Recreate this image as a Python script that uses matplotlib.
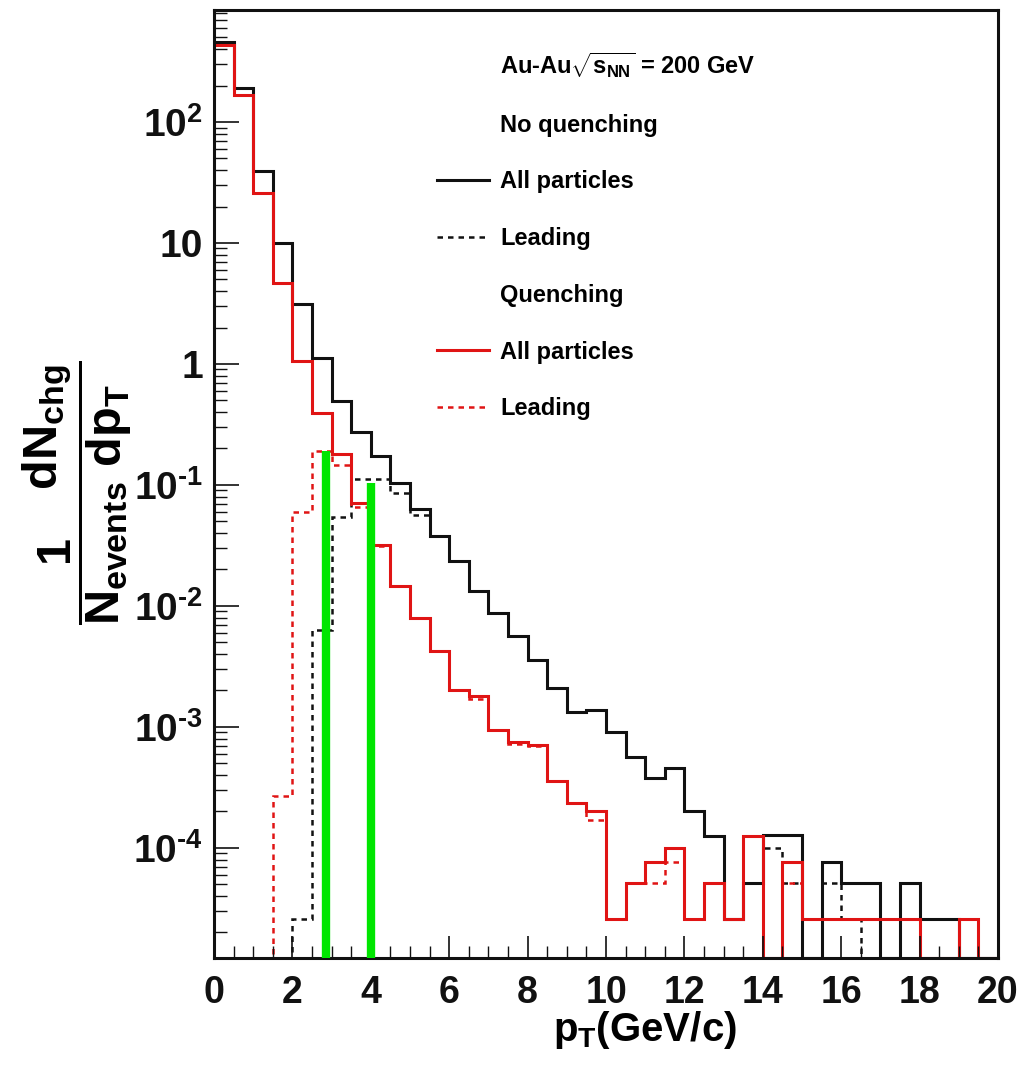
import numpy as np
import matplotlib
matplotlib.use("Agg")
import matplotlib.pyplot as plt
from matplotlib.lines import Line2D
from matplotlib.ticker import LogLocator, MultipleLocator, NullFormatter

plt.rcParams['font.family'] = ['Liberation Sans', 'DejaVu Sans']
plt.rcParams['font.weight'] = 'bold'
plt.rcParams['mathtext.fontset'] = 'custom'
plt.rcParams['mathtext.rm'] = 'Liberation Sans:bold'
plt.rcParams['mathtext.it'] = 'Liberation Sans:bold'
plt.rcParams['mathtext.bf'] = 'Liberation Sans:bold'
plt.rcParams['mathtext.sf'] = 'Liberation Sans:bold'

# ---- datos (bins de 0.5 GeV/c, 0 -> 20) ----
pt_edges = np.linspace(0, 20, 41)

# sin quenching, todas las particulas
all_noq = [457, 190, 39, 10, 3.1, 1.12, 0.49, 0.275, 0.174, 0.104,
           0.063, 0.038, 0.0234, 0.0134, 0.0087, 0.0056, 0.0036, 0.0021, 0.00132, 0.00138,
           0.00090, 0.00056, 0.00038, 0.00046, 0.00020, 0.000126, 2.6e-5, 5.1e-5, 1.28e-4, 1.28e-4,
           0, 7.6e-5, 5.1e-5, 5.1e-5, 0, 5.1e-5, 2.6e-5, 2.6e-5, 0, 0]
# sin quenching, leading
lead_noq = [0, 0, 0, 0, 2.6e-5, 0.0063, 0.054, 0.112, 0.112, 0.085,
            0.056, 0.038, 0.0234, 0.0134, 0.0087, 0.0056, 0.0036, 0.0021, 0.00132, 0.00138,
            0.00090, 0.00056, 0.00038, 0.00046, 0.00020, 0.000126, 2.6e-5, 5.1e-5, 1.0e-4, 5.1e-5,
            0, 5.1e-5, 2.6e-5, 0, 0, 0, 0, 0, 0, 0]
# con quenching, todas las particulas
all_q = [430, 168, 26, 4.7, 1.05, 0.39, 0.18, 0.071, 0.032, 0.0147,
         0.0080, 0.0042, 0.0020, 0.0018, 0.00094, 0.00075, 0.00071, 0.00036, 0.000235, 0.00020,
         2.6e-5, 5.1e-5, 7.6e-5, 1.0e-4, 2.6e-5, 5.1e-5, 2.6e-5, 1.26e-4, 0, 7.6e-5,
         2.6e-5, 2.6e-5, 2.6e-5, 2.6e-5, 2.6e-5, 2.6e-5, 0, 0, 2.6e-5, 0]
# con quenching, leading
lead_q = [0, 0, 0, 2.7e-4, 0.060, 0.19, 0.146, 0.066, 0.031, 0.0145,
          0.0079, 0.0042, 0.0020, 0.0017, 0.00094, 0.00072, 0.00070, 0.00036, 0.000235, 0.00017,
          2.6e-5, 5.1e-5, 5.1e-5, 7.6e-5, 2.6e-5, 5.1e-5, 2.6e-5, 1.26e-4, 0, 5.1e-5,
          2.6e-5, 2.6e-5, 2.6e-5, 2.6e-5, 2.6e-5, 2.6e-5, 0, 0, 2.6e-5, 0]

# lineas verdes (marcas)
green_pt = [2.86, 4.0]
green_top = [0.19, 0.103]

legend_labels = ['Au-Au$\\sqrt{s_{NN}}$ = 200 GeV', 'No quenching', 'All particles',
                 'Leading', 'Quenching', 'All particles', 'Leading']

xtick_vals = [0, 2, 4, 6, 8, 10, 12, 14, 16, 18, 20]
ytick_vals = [1e-4, 1e-3, 1e-2, 1e-1, 1, 10, 1e2]
ytick_labels = ['10$^{\\text{-}4}$', '10$^{\\text{-}3}$', '10$^{\\text{-}2}$',
                '10$^{\\text{-}1}$', '1', '10', '10$^{2}$']

Y_MIN, Y_MAX = 1.23e-5, 850
BLACK = '#111111'
RED = '#e01414'
GREEN = '#00e600'
DASH = (0, (2.2, 2.0))


def piso(v):
    # los bins vacios se dibujan sobre el borde inferior, como en ROOT
    v = np.asarray(v, float)
    return np.where(v > 0, v, Y_MIN)


fig = plt.figure(figsize=(10.21, 10.85), dpi=100)
ax = fig.add_axes([0.2096, 0.1171, 0.7679, 0.8741])

ax.stairs(piso(all_noq), pt_edges, baseline=None, color=BLACK, lw=2.2)
ax.stairs(piso(lead_noq), pt_edges, baseline=None, color=BLACK, lw=1.8, ls=DASH)
ax.stairs(piso(all_q), pt_edges, baseline=None, color=RED, lw=2.2)
ax.stairs(piso(lead_q), pt_edges, baseline=None, color=RED, lw=1.8, ls=DASH)
ax.vlines(green_pt, Y_MIN, green_top, colors=GREEN, lw=6, zorder=5)

ax.set_yscale('log')
ax.set_xlim(0, 20)
ax.set_ylim(Y_MIN, Y_MAX)
ax.set_yticks(ytick_vals, ytick_labels)
ax.yaxis.set_minor_locator(LogLocator(base=10, subs=np.arange(2, 10)))
ax.yaxis.set_minor_formatter(NullFormatter())
ax.set_xticks(xtick_vals, [str(v) for v in xtick_vals])
ax.xaxis.set_minor_locator(MultipleLocator(0.5))

ax.tick_params(axis='both', which='both', direction='in', top=False, right=False, colors=BLACK)
ax.tick_params(axis='y', which='major', length=18, width=1.2, pad=8, labelsize=28)
ax.tick_params(axis='y', which='minor', length=9, width=1.0)
ax.tick_params(axis='x', which='major', length=16, width=1.2, pad=12, labelsize=27)
ax.tick_params(axis='x', which='minor', length=8.5, width=1.0)
for s in ax.spines.values():
    s.set_linewidth(2.2)
    s.set_color(BLACK)

ax.set_xlabel('$p_{T}$(GeV/c)', fontsize=29, fontweight='bold')
ax.xaxis.set_label_coords(0.55, -0.054)

fig.text(77 / 1021, 1 - 493 / 1085,
         '$\\dfrac{1}{N_{events}}\\!\\!\\dfrac{dN_{chg}}{dp_{T}}$',
         rotation=90, ha='center', va='center', fontsize=35)

handles = [Line2D([], [], ls='none'), Line2D([], [], ls='none'),
           Line2D([], [], color=BLACK, lw=2.2), Line2D([], [], color=BLACK, lw=1.8, ls=DASH),
           Line2D([], [], ls='none'),
           Line2D([], [], color=RED, lw=2.2), Line2D([], [], color=RED, lw=1.8, ls=DASH)]
ax.legend(handles, legend_labels, loc='upper left', bbox_to_anchor=(0.284, 0.957),
          frameon=False, fontsize=17, handlelength=2.2, handletextpad=0.5,
          labelspacing=1.43, borderpad=0, borderaxespad=0)

fig.savefig('out.png', dpi=100)
